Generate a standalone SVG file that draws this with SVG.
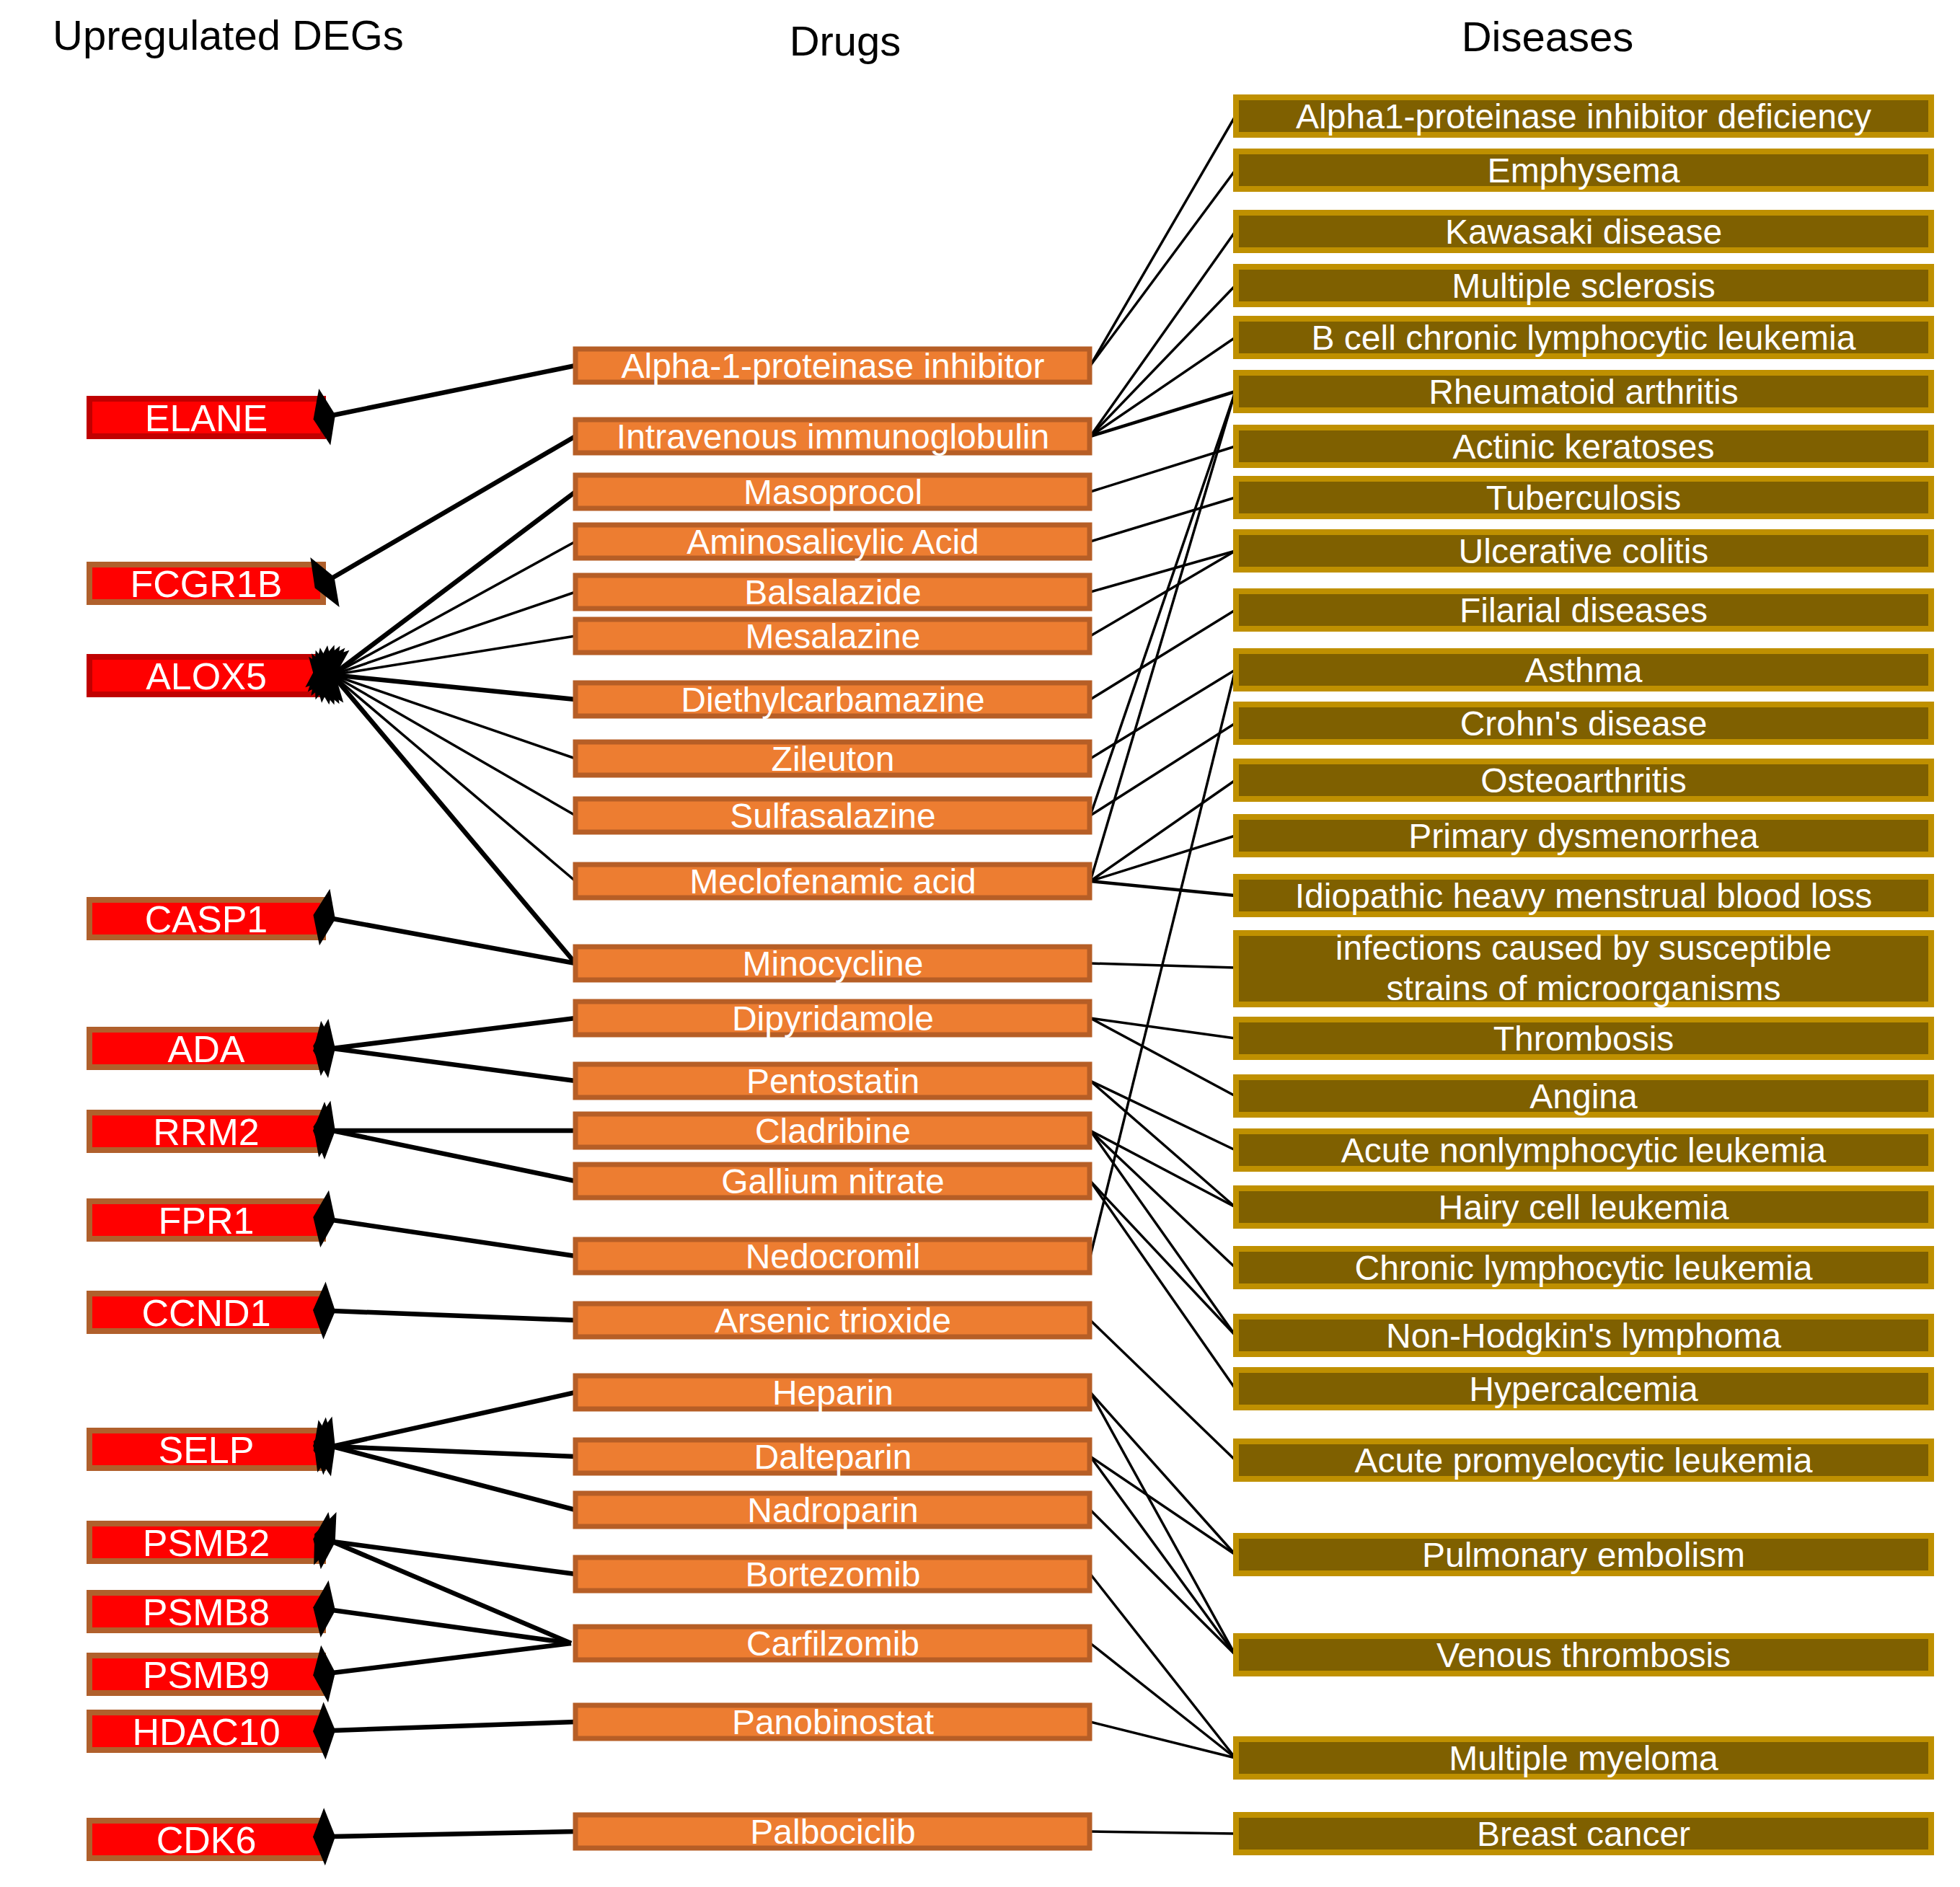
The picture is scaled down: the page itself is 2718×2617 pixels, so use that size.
<svg xmlns="http://www.w3.org/2000/svg" width="2718" height="2617" viewBox="0 0 2718 2617">
<defs>
<style>
.title{font-family:"Liberation Sans",Arial,sans-serif;font-size:58px;fill:#000}
.lbl{font-family:"Liberation Sans",Arial,sans-serif;fill:#fff;text-anchor:middle}
.gene rect{fill:#FF0000;stroke-width:8}
.gene text{font-size:52px}
.red rect{stroke:#C00000}
.brn rect{stroke:#B0602C}
.drug rect{fill:#ED7D31;stroke:#B65E26;stroke-width:7}
.drug text{font-size:48px}
.dis rect{fill:#7F6000;stroke:#BF9000;stroke-width:8}
.dis text{font-size:48px}
.tgt line{stroke:#000;fill:none;marker-end:url(#kite)}
.tgt .k{stroke-width:6.5}
.tgt .n{stroke-width:3.5}
.ind line{stroke:#000;stroke-width:3.5}
.ind .w{stroke-width:4.5}
</style>
<marker id="kite" markerUnits="userSpaceOnUse" orient="auto" viewBox="-5 -45 45 90" refX="4" refY="0" markerWidth="45" markerHeight="90" style="overflow:visible">
<path d="M31,0 L15,-40 L0,0 L15,40 Z" fill="#000"/>
</marker>
</defs>
<rect width="2718" height="2617" fill="#fff"/>

<!-- column headings -->
<text class="title" x="73" y="69">Upregulated DEGs</text>
<text class="title" x="1172" y="77" text-anchor="middle">Drugs</text>
<text class="title" x="2146" y="71" text-anchor="middle">Diseases</text>

<!-- genes (drawn first so the arrowheads sit on top) -->
<g id="gene-ELANE" class="gene red"><rect x="124" y="553" width="324" height="52"/><text class="lbl" x="286" y="598">ELANE</text></g>
<g id="gene-FCGR1B" class="gene brn"><rect x="124" y="783" width="324" height="52"/><text class="lbl" x="286" y="828">FCGR1B</text></g>
<g id="gene-ALOX5" class="gene red"><rect x="124" y="911" width="324" height="52"/><text class="lbl" x="286" y="956">ALOX5</text></g>
<g id="gene-CASP1" class="gene brn"><rect x="124" y="1248" width="324" height="52"/><text class="lbl" x="286" y="1293">CASP1</text></g>
<g id="gene-ADA" class="gene brn"><rect x="124" y="1428" width="324" height="52"/><text class="lbl" x="286" y="1473">ADA</text></g>
<g id="gene-RRM2" class="gene brn"><rect x="124" y="1543" width="324" height="52"/><text class="lbl" x="286" y="1588">RRM2</text></g>
<g id="gene-FPR1" class="gene brn"><rect x="124" y="1666" width="324" height="52"/><text class="lbl" x="286" y="1711">FPR1</text></g>
<g id="gene-CCND1" class="gene brn"><rect x="124" y="1794" width="324" height="52"/><text class="lbl" x="286" y="1839">CCND1</text></g>
<g id="gene-SELP" class="gene brn"><rect x="124" y="1984" width="324" height="52"/><text class="lbl" x="286" y="2029">SELP</text></g>
<g id="gene-PSMB2" class="gene brn"><rect x="124" y="2113" width="324" height="52"/><text class="lbl" x="286" y="2158">PSMB2</text></g>
<g id="gene-PSMB8" class="gene brn"><rect x="124" y="2209" width="324" height="52"/><text class="lbl" x="286" y="2254">PSMB8</text></g>
<g id="gene-PSMB9" class="gene brn"><rect x="124" y="2296" width="324" height="52"/><text class="lbl" x="286" y="2341">PSMB9</text></g>
<g id="gene-HDAC10" class="gene brn"><rect x="124" y="2375" width="324" height="52"/><text class="lbl" x="286" y="2420">HDAC10</text></g>
<g id="gene-CDK6" class="gene brn"><rect x="124" y="2525" width="324" height="52"/><text class="lbl" x="286" y="2570">CDK6</text></g>

<!-- drug to disease indications -->
<g id="indications" class="ind">
<line x1="1512" y1="507" x2="1713" y2="161"/>
<line x1="1512" y1="507" x2="1713" y2="236"/>
<line x1="1512" y1="605" x2="1713" y2="321"/>
<line x1="1512" y1="605" x2="1713" y2="396"/>
<line x1="1512" y1="605" x2="1713" y2="468"/>
<line class="w" x1="1512" y1="605" x2="1713" y2="543"/>
<line x1="1512" y1="682" x2="1713" y2="619"/>
<line x1="1512" y1="751" x2="1713" y2="690"/>
<line x1="1512" y1="821" x2="1713" y2="764"/>
<line x1="1512" y1="882" x2="1713" y2="764"/>
<line x1="1512" y1="970" x2="1713" y2="846"/>
<line x1="1512" y1="1052" x2="1713" y2="929"/>
<line x1="1512" y1="1131" x2="1713" y2="1003"/>
<line x1="1512" y1="1131" x2="1713" y2="543"/>
<line x1="1512" y1="1222" x2="1713" y2="543"/>
<line x1="1512" y1="1222" x2="1713" y2="1082"/>
<line x1="1512" y1="1222" x2="1713" y2="1159"/>
<line class="w" x1="1512" y1="1222" x2="1713" y2="1242"/>
<line x1="1512" y1="1336" x2="1713" y2="1342"/>
<line x1="1512" y1="1412" x2="1713" y2="1440"/>
<line x1="1512" y1="1412" x2="1713" y2="1520"/>
<line x1="1512" y1="1499" x2="1713" y2="1595"/>
<line x1="1512" y1="1499" x2="1713" y2="1674"/>
<line x1="1512" y1="1568" x2="1713" y2="1674"/>
<line x1="1512" y1="1568" x2="1713" y2="1758"/>
<line x1="1512" y1="1568" x2="1713" y2="1852"/>
<line x1="1512" y1="1638" x2="1713" y2="1852"/>
<line x1="1512" y1="1638" x2="1713" y2="1926"/>
<line x1="1512" y1="1742" x2="1713" y2="929"/>
<line x1="1512" y1="1831" x2="1713" y2="2025"/>
<line x1="1512" y1="1931" x2="1713" y2="2156"/>
<line x1="1512" y1="1931" x2="1713" y2="2295"/>
<line x1="1512" y1="2020" x2="1713" y2="2156"/>
<line x1="1512" y1="2020" x2="1713" y2="2295"/>
<line x1="1512" y1="2094" x2="1713" y2="2295"/>
<line x1="1512" y1="2183" x2="1713" y2="2438"/>
<line x1="1512" y1="2279" x2="1713" y2="2438"/>
<line x1="1512" y1="2388" x2="1713" y2="2438"/>
<line x1="1512" y1="2540" x2="1713" y2="2543"/>
</g>

<!-- drug to gene targets -->
<g id="targets" class="tgt">
<line class="k" x1="798" y1="507" x2="461" y2="576"/>
<line class="k" x1="798" y1="605" x2="460" y2="802"/>
<line class="k" x1="798" y1="682" x2="461" y2="936"/>
<line class="n" x1="798" y1="751" x2="461" y2="936"/>
<line class="n" x1="798" y1="821" x2="461" y2="936"/>
<line class="n" x1="798" y1="882" x2="461" y2="936"/>
<line class="k" x1="798" y1="970" x2="461" y2="936"/>
<line class="n" x1="798" y1="1052" x2="461" y2="936"/>
<line class="n" x1="798" y1="1131" x2="461" y2="936"/>
<line class="n" x1="798" y1="1222" x2="461" y2="936"/>
<line class="k" x1="798" y1="1336" x2="461" y2="936"/>
<line class="k" x1="798" y1="1336" x2="461" y2="1274"/>
<line class="k" x1="798" y1="1412" x2="461" y2="1454"/>
<line class="k" x1="798" y1="1499" x2="461" y2="1454"/>
<line class="k" x1="798" y1="1568" x2="461" y2="1568"/>
<line class="k" x1="798" y1="1638" x2="461" y2="1568"/>
<line class="k" x1="798" y1="1742" x2="461" y2="1692"/>
<line class="k" x1="798" y1="1831" x2="461" y2="1818"/>
<line class="k" x1="798" y1="1931" x2="461" y2="2006"/>
<line class="k" x1="798" y1="2020" x2="461" y2="2006"/>
<line class="k" x1="798" y1="2094" x2="461" y2="2006"/>
<line class="k" x1="798" y1="2183" x2="461" y2="2138"/>
<line class="k" x1="792" y1="2279" x2="461" y2="2138"/>
<line class="k" x1="792" y1="2279" x2="461" y2="2233"/>
<line class="k" x1="792" y1="2279" x2="461" y2="2320"/>
<line class="k" x1="798" y1="2388" x2="461" y2="2400"/>
<line class="k" x1="798" y1="2540" x2="461" y2="2547"/>
</g>

<!-- drugs -->
<g id="drug-alpha1pi" class="drug"><rect x="798" y="484" width="713" height="46"/><text class="lbl" x="1155" y="524">Alpha-1-proteinase inhibitor</text></g>
<g id="drug-ivig" class="drug"><rect x="798" y="582" width="713" height="46"/><text class="lbl" x="1155" y="622">Intravenous immunoglobulin</text></g>
<g id="drug-masoprocol" class="drug"><rect x="798" y="659" width="713" height="46"/><text class="lbl" x="1155" y="699">Masoprocol</text></g>
<g id="drug-aminosalicylic" class="drug"><rect x="798" y="728" width="713" height="46"/><text class="lbl" x="1155" y="768">Aminosalicylic Acid</text></g>
<g id="drug-balsalazide" class="drug"><rect x="798" y="798" width="713" height="46"/><text class="lbl" x="1155" y="838">Balsalazide</text></g>
<g id="drug-mesalazine" class="drug"><rect x="798" y="859" width="713" height="46"/><text class="lbl" x="1155" y="899">Mesalazine</text></g>
<g id="drug-diethylcarbamazine" class="drug"><rect x="798" y="947" width="713" height="46"/><text class="lbl" x="1155" y="987">Diethylcarbamazine</text></g>
<g id="drug-zileuton" class="drug"><rect x="798" y="1029" width="713" height="46"/><text class="lbl" x="1155" y="1069">Zileuton</text></g>
<g id="drug-sulfasalazine" class="drug"><rect x="798" y="1108" width="713" height="46"/><text class="lbl" x="1155" y="1148">Sulfasalazine</text></g>
<g id="drug-meclofenamic" class="drug"><rect x="798" y="1199" width="713" height="46"/><text class="lbl" x="1155" y="1239">Meclofenamic acid</text></g>
<g id="drug-minocycline" class="drug"><rect x="798" y="1313" width="713" height="46"/><text class="lbl" x="1155" y="1353">Minocycline</text></g>
<g id="drug-dipyridamole" class="drug"><rect x="798" y="1389" width="713" height="46"/><text class="lbl" x="1155" y="1429">Dipyridamole</text></g>
<g id="drug-pentostatin" class="drug"><rect x="798" y="1476" width="713" height="46"/><text class="lbl" x="1155" y="1516">Pentostatin</text></g>
<g id="drug-cladribine" class="drug"><rect x="798" y="1545" width="713" height="46"/><text class="lbl" x="1155" y="1585">Cladribine</text></g>
<g id="drug-gallium" class="drug"><rect x="798" y="1615" width="713" height="46"/><text class="lbl" x="1155" y="1655">Gallium nitrate</text></g>
<g id="drug-nedocromil" class="drug"><rect x="798" y="1719" width="713" height="46"/><text class="lbl" x="1155" y="1759">Nedocromil</text></g>
<g id="drug-arsenic" class="drug"><rect x="798" y="1808" width="713" height="46"/><text class="lbl" x="1155" y="1848">Arsenic trioxide</text></g>
<g id="drug-heparin" class="drug"><rect x="798" y="1908" width="713" height="46"/><text class="lbl" x="1155" y="1948">Heparin</text></g>
<g id="drug-dalteparin" class="drug"><rect x="798" y="1997" width="713" height="46"/><text class="lbl" x="1155" y="2037">Dalteparin</text></g>
<g id="drug-nadroparin" class="drug"><rect x="798" y="2071" width="713" height="46"/><text class="lbl" x="1155" y="2111">Nadroparin</text></g>
<g id="drug-bortezomib" class="drug"><rect x="798" y="2160" width="713" height="46"/><text class="lbl" x="1155" y="2200">Bortezomib</text></g>
<g id="drug-carfilzomib" class="drug"><rect x="798" y="2256" width="713" height="46"/><text class="lbl" x="1155" y="2296">Carfilzomib</text></g>
<g id="drug-panobinostat" class="drug"><rect x="798" y="2365" width="713" height="46"/><text class="lbl" x="1155" y="2405">Panobinostat</text></g>
<g id="drug-palbociclib" class="drug"><rect x="798" y="2517" width="713" height="46"/><text class="lbl" x="1155" y="2557">Palbociclib</text></g>

<!-- diseases -->
<g id="dis-a1pi-deficiency" class="dis"><rect x="1714" y="135" width="964" height="52"/><text class="lbl" x="2196" y="178">Alpha1-proteinase inhibitor deficiency</text></g>
<g id="dis-emphysema" class="dis"><rect x="1714" y="210" width="964" height="52"/><text class="lbl" x="2196" y="253">Emphysema</text></g>
<g id="dis-kawasaki" class="dis"><rect x="1714" y="295" width="964" height="52"/><text class="lbl" x="2196" y="338">Kawasaki disease</text></g>
<g id="dis-ms" class="dis"><rect x="1714" y="370" width="964" height="52"/><text class="lbl" x="2196" y="413">Multiple sclerosis</text></g>
<g id="dis-bcll" class="dis"><rect x="1714" y="442" width="964" height="52"/><text class="lbl" x="2196" y="485">B cell chronic lymphocytic leukemia</text></g>
<g id="dis-ra" class="dis"><rect x="1714" y="517" width="964" height="52"/><text class="lbl" x="2196" y="560">Rheumatoid arthritis</text></g>
<g id="dis-actinic" class="dis"><rect x="1714" y="593" width="964" height="52"/><text class="lbl" x="2196" y="636">Actinic keratoses</text></g>
<g id="dis-tb" class="dis"><rect x="1714" y="664" width="964" height="52"/><text class="lbl" x="2196" y="707">Tuberculosis</text></g>
<g id="dis-uc" class="dis"><rect x="1714" y="738" width="964" height="52"/><text class="lbl" x="2196" y="781">Ulcerative colitis</text></g>
<g id="dis-filarial" class="dis"><rect x="1714" y="820" width="964" height="52"/><text class="lbl" x="2196" y="863">Filarial diseases</text></g>
<g id="dis-asthma" class="dis"><rect x="1714" y="903" width="964" height="52"/><text class="lbl" x="2196" y="946">Asthma</text></g>
<g id="dis-crohn" class="dis"><rect x="1714" y="977" width="964" height="52"/><text class="lbl" x="2196" y="1020">Crohn's disease</text></g>
<g id="dis-oa" class="dis"><rect x="1714" y="1056" width="964" height="52"/><text class="lbl" x="2196" y="1099">Osteoarthritis</text></g>
<g id="dis-dysmenorrhea" class="dis"><rect x="1714" y="1133" width="964" height="52"/><text class="lbl" x="2196" y="1176">Primary dysmenorrhea</text></g>
<g id="dis-menstrual" class="dis"><rect x="1714" y="1216" width="964" height="52"/><text class="lbl" x="2196" y="1259">Idiopathic heavy menstrual blood loss</text></g>
<g id="dis-infections" class="dis"><rect x="1714" y="1294" width="964" height="99"/><text class="lbl" x="2196" y="1331">infections caused by susceptible</text><text class="lbl" x="2196" y="1387">strains of microorganisms</text></g>
<g id="dis-thrombosis" class="dis"><rect x="1714" y="1414" width="964" height="52"/><text class="lbl" x="2196" y="1457">Thrombosis</text></g>
<g id="dis-angina" class="dis"><rect x="1714" y="1494" width="964" height="52"/><text class="lbl" x="2196" y="1537">Angina</text></g>
<g id="dis-anll" class="dis"><rect x="1714" y="1569" width="964" height="52"/><text class="lbl" x="2196" y="1612">Acute nonlymphocytic leukemia</text></g>
<g id="dis-hairy" class="dis"><rect x="1714" y="1648" width="964" height="52"/><text class="lbl" x="2196" y="1691">Hairy cell leukemia</text></g>
<g id="dis-cll" class="dis"><rect x="1714" y="1732" width="964" height="52"/><text class="lbl" x="2196" y="1775">Chronic lymphocytic leukemia</text></g>
<g id="dis-nhl" class="dis"><rect x="1714" y="1826" width="964" height="52"/><text class="lbl" x="2196" y="1869">Non-Hodgkin's lymphoma</text></g>
<g id="dis-hypercalcemia" class="dis"><rect x="1714" y="1900" width="964" height="52"/><text class="lbl" x="2196" y="1943">Hypercalcemia</text></g>
<g id="dis-apl" class="dis"><rect x="1714" y="1999" width="964" height="52"/><text class="lbl" x="2196" y="2042">Acute promyelocytic leukemia</text></g>
<g id="dis-pe" class="dis"><rect x="1714" y="2130" width="964" height="52"/><text class="lbl" x="2196" y="2173">Pulmonary embolism</text></g>
<g id="dis-vt" class="dis"><rect x="1714" y="2269" width="964" height="52"/><text class="lbl" x="2196" y="2312">Venous thrombosis</text></g>
<g id="dis-mm" class="dis"><rect x="1714" y="2412" width="964" height="52"/><text class="lbl" x="2196" y="2455">Multiple myeloma</text></g>
<g id="dis-breast" class="dis"><rect x="1714" y="2517" width="964" height="52"/><text class="lbl" x="2196" y="2560">Breast cancer</text></g>
</svg>
